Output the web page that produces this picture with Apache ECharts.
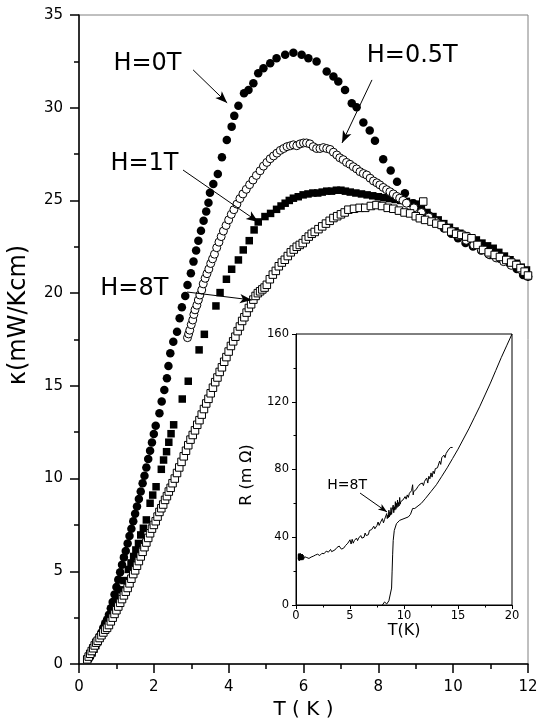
<!DOCTYPE html>
<html><head><meta charset="utf-8">
<script src="https://cdn.jsdelivr.net/npm/echarts@6/dist/echarts.min.js"></script>
<style>html,body{margin:0;padding:0;background:#fff}#c{width:543px;height:725px}</style>
</head><body><div id="c"></div><script>
// ---- main panel data: thermal conductivity kappa (mW/Kcm) vs T (K)
const kappaH0T = [
[0.25,0.3],[0.30,0.5],[0.35,0.7],[0.40,0.9],[0.45,1.1],[0.50,1.3],[0.55,1.5],[0.60,1.7],[0.65,1.95],[0.70,2.2],
[0.75,2.4],[0.80,2.65],[0.85,3.0],[0.90,3.35],[0.95,3.75],[1.00,4.15],[1.05,4.55],[1.10,4.95],[1.15,5.35],[1.20,5.75],
[1.25,6.1],[1.30,6.5],[1.35,6.9],[1.40,7.3],[1.45,7.7],[1.50,8.1],[1.55,8.5],[1.60,8.9],[1.65,9.3],[1.70,9.75],
[1.75,10.15],[1.80,10.6],[1.85,11.05],[1.90,11.5],[1.95,11.95],[2.00,12.4],[2.05,12.85],[2.15,13.52],[2.21,14.15],[2.28,14.78],
[2.35,15.41],[2.39,16.07],[2.44,16.76],[2.52,17.38],[2.62,17.92],[2.69,18.65],[2.75,19.24],[2.84,19.85],[2.90,20.44],[2.99,21.07],
[3.06,21.7],[3.13,22.3],[3.19,22.83],[3.26,23.37],[3.33,23.9],[3.40,24.4],[3.46,24.88],[3.50,25.42],[3.59,25.89],[3.71,26.43],
[3.82,27.33],[3.95,28.26],[4.08,28.98],[4.15,29.56],[4.26,30.1],[4.41,30.78],[4.53,30.96],[4.66,31.32],[4.79,31.86],[4.93,32.13],
[5.11,32.4],[5.28,32.67],[5.51,32.85],[5.73,32.97],[5.95,32.85],[6.13,32.67],[6.35,32.49],[6.62,31.95],[6.80,31.68],[6.93,31.41],
[7.11,30.96],[7.29,30.24],[7.42,30.03],[7.60,29.2],[7.77,28.77],[7.91,28.22],[8.13,27.22],[8.33,26.61],[8.50,26.01],[8.71,25.39],
[8.93,24.85],[9.15,24.5],[9.35,24.2],[9.55,23.85],[9.75,23.5],[9.95,23.2],[10.13,22.96],[10.33,22.7],[10.53,22.51],[10.75,22.3],
[10.98,22.06],[11.25,21.85],[11.51,21.6],[11.70,21.3],[11.87,20.98]
];
const kappaH1T = [
[0.25,0.3],[0.30,0.45],[0.35,0.6],[0.40,0.8],[0.45,1.0],[0.50,1.2],[0.55,1.4],[0.60,1.6],[0.65,1.8],[0.70,2.0],
[0.75,2.25],[0.80,2.5],[0.90,3.0],[1.00,3.5],[1.10,4.0],[1.20,4.5],[1.32,5.1],[1.39,5.45],[1.46,5.8],[1.52,6.15],
[1.59,6.5],[1.65,6.96],[1.72,7.32],[1.80,7.77],[1.90,8.67],[1.97,9.11],[2.06,9.56],[2.20,10.5],[2.26,11.0],[2.34,11.45],
[2.40,11.96],[2.46,12.42],[2.53,12.9],[2.76,14.29],[2.92,15.25],[3.21,16.94],[3.35,17.78],[3.66,19.31],[3.77,20.03],[3.94,20.75],
[4.08,21.29],[4.26,21.79],[4.39,22.33],[4.55,22.83],[4.68,23.41],[4.79,23.84],[4.97,24.13],[5.12,24.3],[5.28,24.52],[5.40,24.7],
[5.51,24.85],[5.62,25.0],[5.73,25.12],[5.86,25.2],[5.99,25.3],[6.12,25.35],[6.25,25.4],[6.38,25.4],[6.50,25.45],[6.62,25.5],
[6.75,25.5],[6.88,25.55],[7.00,25.55],[7.12,25.5],[7.25,25.45],[7.40,25.4],[7.55,25.35],[7.70,25.3],[7.85,25.25],[8.00,25.2],
[8.15,25.15],[8.30,25.1],[8.45,25.05],[8.60,25.0],[8.75,24.95],[8.90,24.85],[9.02,24.8],[9.15,24.6],[9.30,24.35],[9.46,24.13],
[9.60,23.95],[9.75,23.75],[9.90,23.55],[10.05,23.35],[10.18,23.23],[10.32,23.1],[10.47,22.95],[10.62,22.87],[10.77,22.7],[10.92,22.55],
[11.07,22.42],[11.22,22.2],[11.37,22.0],[11.52,21.8],[11.69,21.61],[11.82,21.4],[11.96,21.25]
];
const kappaH05T = [
[2.90,17.6],[2.93,17.8],[2.96,18.0],[3.00,18.3],[3.04,18.55],[3.07,18.85],[3.10,19.1],[3.15,19.35],[3.19,19.63],[3.23,19.9],
[3.28,20.17],[3.32,20.5],[3.37,20.8],[3.42,21.05],[3.47,21.3],[3.52,21.6],[3.57,21.85],[3.62,22.1],[3.68,22.45],[3.74,22.75],
[3.80,23.05],[3.86,23.35],[3.93,23.65],[4.00,23.95],[4.07,24.25],[4.14,24.5],[4.22,24.8],[4.30,25.1],[4.38,25.35],[4.47,25.6],
[4.56,25.85],[4.65,26.1],[4.74,26.35],[4.84,26.6],[4.93,26.85],[5.02,27.05],[5.11,27.25],[5.20,27.4],[5.29,27.55],[5.38,27.7],
[5.47,27.8],[5.56,27.9],[5.65,27.95],[5.73,28.0],[5.82,27.95],[5.91,28.05],[6.00,28.1],[6.08,28.1],[6.17,28.05],[6.26,27.9],
[6.35,27.8],[6.44,27.8],[6.53,27.85],[6.62,27.8],[6.71,27.75],[6.80,27.6],[6.89,27.45],[6.97,27.3],[7.06,27.2],[7.15,27.05],
[7.24,26.95],[7.33,26.82],[7.42,26.7],[7.51,26.55],[7.60,26.45],[7.69,26.37],[7.78,26.2],[7.87,26.05],[7.96,25.95],[8.04,25.84],
[8.13,25.7],[8.22,25.58],[8.31,25.47],[8.40,25.35],[8.49,25.22],[8.57,25.12],[8.66,25.0],[8.75,24.85],[8.95,24.6],[9.15,24.35],
[9.35,24.1],[9.55,23.85],[9.75,23.6],[9.95,23.35],[10.15,23.1],[10.35,22.85],[10.55,22.6],[10.75,22.35],[10.95,22.1],[11.15,21.9],
[11.35,21.7],[11.55,21.5],[11.82,21.25],[12.00,20.89]
];
const kappaH8T = [
[0.22,0.25],[0.26,0.4],[0.30,0.55],[0.34,0.7],[0.38,0.85],[0.42,1.0],[0.46,1.15],[0.50,1.25],[0.55,1.4],[0.60,1.55],
[0.65,1.7],[0.70,1.85],[0.75,1.95],[0.80,2.1],[0.85,2.3],[0.90,2.5],[0.95,2.7],[1.00,2.9],[1.05,3.1],[1.10,3.3],
[1.15,3.5],[1.20,3.7],[1.25,3.9],[1.30,4.1],[1.35,4.35],[1.40,4.6],[1.45,4.85],[1.50,5.05],[1.55,5.3],[1.60,5.55],
[1.65,5.8],[1.70,6.05],[1.75,6.3],[1.80,6.55],[1.85,6.8],[1.90,7.05],[1.95,7.3],[2.00,7.5],[2.05,7.7],[2.10,7.95],
[2.15,8.2],[2.20,8.4],[2.25,8.6],[2.30,8.85],[2.35,9.05],[2.40,9.3],[2.45,9.5],[2.50,9.75],[2.56,10.0],[2.62,10.3],
[2.68,10.6],[2.74,10.9],[2.80,11.2],[2.86,11.5],[2.92,11.8],[2.98,12.1],[3.04,12.35],[3.10,12.6],[3.16,12.9],[3.22,13.15],
[3.28,13.45],[3.34,13.75],[3.40,14.05],[3.46,14.3],[3.52,14.6],[3.58,14.9],[3.64,15.2],[3.70,15.45],[3.76,15.75],[3.82,16.0],
[3.88,16.3],[3.94,16.55],[4.00,16.85],[4.06,17.15],[4.12,17.4],[4.18,17.65],[4.24,17.95],[4.30,18.2],[4.36,18.5],[4.42,18.7],
[4.48,18.95],[4.54,19.2],[4.60,19.4],[4.66,19.65],[4.72,19.85],[4.78,20.0],[4.84,20.1],[4.90,20.2],[4.96,20.3],[5.02,20.45],
[5.10,20.75],[5.18,21.0],[5.26,21.2],[5.34,21.45],[5.42,21.65],[5.50,21.8],[5.58,22.0],[5.66,22.2],[5.74,22.35],[5.82,22.5],
[5.90,22.6],[5.98,22.7],[6.06,22.9],[6.14,23.05],[6.22,23.2],[6.30,23.3],[6.40,23.45],[6.50,23.6],[6.60,23.75],[6.70,23.9],
[6.80,24.05],[6.90,24.15],[7.00,24.25],[7.10,24.35],[7.20,24.5],[7.35,24.55],[7.50,24.6],[7.65,24.6],[7.80,24.7],[7.95,24.75],
[8.10,24.7],[8.25,24.6],[8.40,24.55],[8.55,24.45],[8.70,24.35],[8.85,24.3],[9.00,24.15],[9.11,24.04],[9.20,24.94],[9.25,23.95],
[9.42,23.86],[9.55,23.75],[9.69,23.68],[9.82,23.5],[9.95,23.32],[10.08,23.2],[10.22,23.14],[10.35,23.05],[10.49,22.96],[10.65,22.6],
[10.80,22.33],[10.95,22.2],[11.11,22.06],[11.25,21.95],[11.42,21.79],[11.55,21.65],[11.69,21.52],[11.80,21.35],[11.91,21.16],[12.00,20.95]
];
// ---- inset data: resistance R (mOhm) vs T (K)
const resH8T = [
[0.2,27],[0.22,30],[0.25,26.5],[0.28,30.5],[0.3,26],[0.33,30],[0.36,26.5],[0.4,30.5],[0.43,26.5],[0.46,30],
[0.5,26.5],[0.53,30],[0.56,27],[0.6,30],[0.63,26.5],[0.66,29.5],[0.7,27],[0.8,28.5],[0.9,27.5],[1.0,28],
[1.2,27.5],[1.4,28.3],[1.6,28.8],[1.8,29.5],[1.9,29],[2.0,30],[2.2,29.2],[2.4,30.5],[2.6,30.3],[2.8,31.8],
[2.9,30.8],[3.0,31.2],[3.2,32.8],[3.3,31.5],[3.4,31.8],[3.6,32.5],[3.8,34],[3.9,33],[4.0,34.8],[4.2,33],
[4.4,33.5],[4.6,35.2],[4.8,36.5],[4.9,35.5],[5.0,38.5],[5.1,36],[5.2,38.8],[5.3,36.5],[5.4,38],[5.5,37.5],
[5.6,39.5],[5.7,38],[5.8,39.5],[5.9,38.8],[6.0,41],[6.1,39.5],[6.2,40.5],[6.3,40],[6.4,42.5],[6.5,41],
[6.6,42],[6.7,41.5],[6.8,44],[6.9,43],[7.0,44.5],[7.1,44],[7.2,46.5],[7.3,45],[7.4,46],[7.5,47],
[7.6,49],[7.7,47],[7.8,48.5],[7.9,48],[8.0,51],[8.1,48.5],[8.2,50.5],[8.3,50],[8.4,54],[8.45,51],
[8.5,53],[8.55,51.5],[8.6,56],[8.65,52],[8.7,55],[8.75,53],[8.8,57.5],[8.85,53.5],[8.9,56],[8.95,55],
[9.0,59],[9.05,54.5],[9.1,58],[9.15,56],[9.2,61],[9.25,56.5],[9.3,60],[9.35,57.5],[9.4,62],[9.45,58],
[9.5,60.5],[9.55,58.5],[9.6,63.5],[9.65,59.5],[9.7,61],[9.8,60.5],[9.9,62],[10.0,61.5],[10.1,64],[10.2,62.5],
[10.3,65],[10.4,63.5],[10.5,66],[10.6,65],[10.7,67.5],[10.8,71],[10.85,65],[10.9,67],[11.0,66.5],[11.1,68],
[11.2,67],[11.3,70],[11.4,69],[11.5,71.5],[11.6,70.5],[11.7,72],[11.8,70.5],[11.9,73],[12.0,72.5],[12.1,75],
[12.2,72],[12.3,76],[12.4,74.5],[12.5,78],[12.6,75.5],[12.7,79],[12.8,77.5],[12.9,80.5],[13.0,79.5],[13.1,81],
[13.2,81.5],[13.3,85],[13.4,83],[13.5,87],[13.6,86],[13.7,88.5],[13.8,87],[13.9,89.5],[14.0,90],[14.1,91.5],
[14.2,91],[14.3,93],[14.4,94],[14.5,93]
];
const resH0T = [
[8.0,0],[8.1,1.0],[8.2,1.8],[8.3,1.2],[8.4,0.6],[8.5,1.5],[8.6,2.5],[8.75,3.5],[8.85,10],[8.9,20],
[8.95,30],[9.0,38],[9.1,44],[9.3,48],[9.6,50],[10.0,51],[10.4,52],[10.6,53.5],[10.8,57],[10.9,58],
[11.0,57],[11.3,58.5],[11.6,60],[12.0,63],[12.5,67],[13.0,71],[13.5,76],[14.0,81],[14.5,86.5],[15.0,92],
[15.5,98],[16.0,104],[16.5,110.5],[17.0,117],[17.5,124],[18.0,131],[18.5,138.5],[19.0,146],[19.5,153],[20.0,160]
];
// ---- annotation labels and arrows (data coordinates)
const mainLabels = [['H=0T',0.92,32.36],['H=1T',0.84,26.97],['H=8T',0.57,20.23],['H=0.5T',7.69,32.79]];
const mainArrows = [[3.05,32.04,3.96,30.26],[2.78,26.64,4.79,23.84],[2.89,20.06,4.62,19.63],[7.83,31.5,7.03,28.1]];
const insetLabels = [['H=8T',2.89,70.8]];
const insetArrows = [[5.93,66.1,8.43,54.9]];
const mainYTitle = 'κ(mW/Kcm)';
const insetYTitle = 'R (m Ω)';

const FONT = '"DejaVu Sans", "Liberation Sans", Arial, sans-serif';
const chart = echarts.init(document.getElementById('c'), null, {renderer:'canvas'});

function arrowData(list){ return list.map(a => [{coord:[a[0],a[1]]},{coord:[a[2],a[3]]}]); }
const arrowStyle = {silent:true, symbol:['none','arrow'], symbolSize:[7,12], label:{show:false},
  lineStyle:{color:'#000', width:1, type:'solid'}, emphasis:{disabled:true}, animation:false};

const option = {
  animation:false,
  backgroundColor:'#fff',
  grid:[
    {left:79, top:15, width:449, height:649, show:true, borderColor:'#808080', borderWidth:1},
    {left:296, top:334, width:216, height:271, show:true, borderColor:'#000', borderWidth:1, backgroundColor:'#fff'}
  ],
  xAxis:[
    {gridIndex:0, type:'value', min:0, max:12, interval:2,
      axisLine:{show:true, onZero:false, lineStyle:{color:'#000', width:1.5}},
      axisTick:{show:true, inside:false, length:9, lineStyle:{color:'#000', width:1.5}},
      minorTick:{show:true, splitNumber:2, length:5, lineStyle:{color:'#000', width:1.5}},
      splitLine:{show:false},
      axisLabel:{color:'#000', fontSize:15, fontFamily:FONT, margin:16},
      name:'T ( K )', nameLocation:'middle', nameGap:35,
      nameTextStyle:{color:'#000', fontSize:20, fontFamily:FONT}},
    {gridIndex:1, type:'value', min:0, max:20, interval:5,
      axisLine:{show:true, onZero:false, lineStyle:{color:'#000', width:1}},
      axisTick:{show:true, inside:false, length:4, lineStyle:{color:'#000'}},
      minorTick:{show:true, splitNumber:2, length:2.5, lineStyle:{color:'#000'}},
      splitLine:{show:false},
      axisLabel:{color:'#000', fontSize:11.5, fontFamily:FONT, margin:5},
      name:'T(K)', nameLocation:'middle', nameGap:17,
      nameTextStyle:{color:'#000', fontSize:16, fontFamily:FONT}}
  ],
  yAxis:[
    {gridIndex:0, type:'value', min:0, max:35, interval:5,
      axisLine:{show:true, onZero:false, lineStyle:{color:'#000', width:1.5}},
      axisTick:{show:true, inside:false, length:9, lineStyle:{color:'#000', width:1.5}},
      minorTick:{show:true, splitNumber:2, length:5, lineStyle:{color:'#000', width:1.5}},
      splitLine:{show:false},
      axisLabel:{color:'#000', fontSize:15, fontFamily:FONT, margin:16}},
    {gridIndex:1, type:'value', min:0, max:160, interval:40,
      axisLine:{show:true, onZero:false, lineStyle:{color:'#000', width:1}},
      axisTick:{show:true, inside:false, length:4, lineStyle:{color:'#000'}},
      minorTick:{show:true, splitNumber:2, length:2.5, lineStyle:{color:'#000'}},
      splitLine:{show:false},
      axisLabel:{color:'#000', fontSize:11.5, fontFamily:FONT, margin:7}}
  ],
  series:[
    {name:'H=0T', type:'scatter', xAxisIndex:0, yAxisIndex:0, data:kappaH0T,
      symbol:'circle', symbolSize:8.5, itemStyle:{color:'#000', opacity:1},
      markLine:Object.assign({data:arrowData(mainArrows)}, arrowStyle)},
    {name:'H=1T', type:'scatter', xAxisIndex:0, yAxisIndex:0, data:kappaH1T,
      symbol:'rect', symbolSize:7.5, itemStyle:{color:'#000', opacity:1}},
    {name:'H=0.5T', type:'scatter', xAxisIndex:0, yAxisIndex:0, data:kappaH05T,
      symbol:'circle', symbolSize:8, itemStyle:{color:'#fff', borderColor:'#000', borderWidth:1, opacity:1}},
    {name:'H=8T', type:'scatter', xAxisIndex:0, yAxisIndex:0, data:kappaH8T,
      symbol:'rect', symbolSize:7.5, itemStyle:{color:'#fff', borderColor:'#000', borderWidth:1, opacity:1}},
    {name:'R H=8T', type:'line', xAxisIndex:1, yAxisIndex:1, data:resH8T, showSymbol:false,
      lineStyle:{color:'#000', width:1}, z:5,
      markLine:Object.assign({data:arrowData(insetArrows)}, arrowStyle, {symbolSize:[5,9]})},
    {name:'R H=0T', type:'line', xAxisIndex:1, yAxisIndex:1, data:resH0T, showSymbol:false,
      lineStyle:{color:'#000', width:1}, z:5}
  ]
};
chart.setOption(option);

const graphics = [
  {type:'text', x:19, y:315, rotation:Math.PI/2, z:10,
    style:{text:mainYTitle, fill:'#000', font:'24px ' + FONT, align:'center', verticalAlign:'middle'}},
  {type:'text', x:247, y:475, rotation:Math.PI/2, z:10,
    style:{text:insetYTitle, fill:'#000', font:'16px ' + FONT, align:'center', verticalAlign:'middle'}}
];
mainLabels.forEach(l => {
  const p = chart.convertToPixel({gridIndex:0}, [l[1], l[2]]);
  graphics.push({type:'text', x:p[0], y:p[1], z:10, style:{text:l[0], fill:'#000', font:'24px ' + FONT, align:'left', verticalAlign:'middle'}});
});
insetLabels.forEach(l => {
  const p = chart.convertToPixel({gridIndex:1}, [l[1], l[2]]);
  graphics.push({type:'text', x:p[0], y:p[1], z:10, style:{text:l[0], fill:'#000', font:'14px ' + FONT, align:'left', verticalAlign:'middle'}});
});
chart.setOption({graphic:graphics});
</script></body></html>
